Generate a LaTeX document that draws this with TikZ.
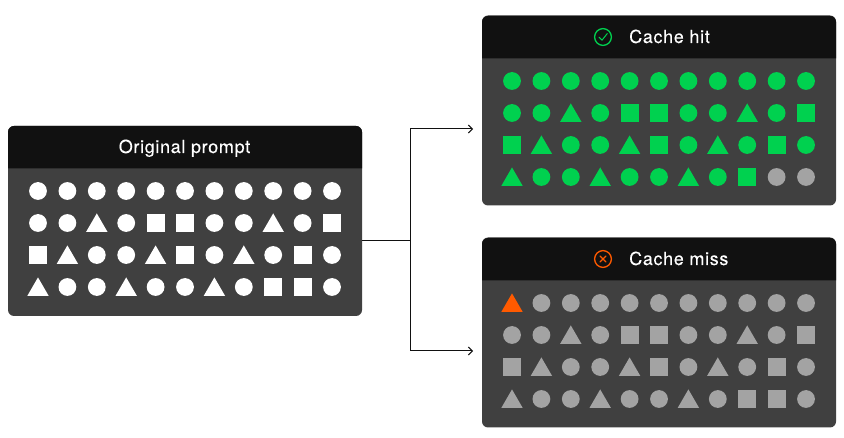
\documentclass[tikz,border=0pt]{standalone}
\usepackage{fontspec}
\setmainfont[LetterSpace=3.6,FakeBold=0.12]{TeX Gyre Heros}
\usetikzlibrary{arrows.meta}

\definecolor{panelgrey}{HTML}{404040}
\definecolor{headblack}{HTML}{111111}
\definecolor{hitgreen}{HTML}{00D14F}
\definecolor{tokengrey}{HTML}{A3A3A3}
\definecolor{missorange}{HTML}{FF5A00}

\tikzset{
  panelbody/.style={fill=panelgrey, rounded corners=6pt, minimum width=354pt, minimum height=190pt, inner sep=0pt, outer sep=0pt},
  headtext/.style={text=white, font=\fontsize{18}{20}\selectfont, inner sep=0pt},
  link/.style={draw=headblack, line width=1pt},
  badge/.style={line width=1.3pt, line cap=round, line join=round}
}

% one token, centred on (#2,#3)
\newcommand{\tokenc}[3]{\fill[#1] (#2,#3) circle (8.9);}
\newcommand{\tokens}[3]{\fill[#1] (#2-8.9,#3-8.9) rectangle (#2+8.9,#3+8.9);}
\newcommand{\tokent}[3]{\fill[#1] (#2-10.7,#3+8.9) -- (#2+10.7,#3+8.9) -- (#2,#3-9.6) -- cycle;}
% the two odd ones keep their own colour
\newcommand{\tokeng}[3]{\tokenc{tokengrey}{#2}{#3}}
\newcommand{\tokeno}[3]{\tokent{missorange}{#2}{#3}}

% black top of a panel with round upper corners
\newcommand{\panelhead}[2]{
  \fill[headblack, rounded corners=6pt] (#1,#2+42.4) [sharp corners] -- (#1,#2+42.4) [rounded corners=6pt] -- (#1,#2) -- (#1+354,#2) [sharp corners] -- (#1+354,#2+42.4) -- cycle;
}

% the 4 x 11 tokens: left x, top y, colour, first row, last row
\newcommand{\tokengrid}[5]{
  \foreach \row/\rowlist in {0/{#4},
                             1/{c,c,t,c,s,s,c,c,t,c,s},
                             2/{s,t,c,c,t,s,c,t,c,s,c},
                             3/{#5}} {
    \foreach \kind [count=\col from 0] in \rowlist {
      \pgfmathsetmacro{\tx}{#1+\col*29.4}
      \pgfmathsetmacro{\ty}{#2+\row*32}
      \csname token\kind\endcsname{#3}{\tx}{\ty}
    }
  }
}

\begin{document}
\begin{tikzpicture}[x=1pt, y=-1pt]
\useasboundingbox (0,0) rectangle (844,438);

% left panel
\node[panelbody] (orig) at (185,221) {};
\panelhead{8}{126}
\node[headtext, anchor=base] (origtitle) at (184.5,153) {Original prompt};
\tokengrid{38}{191}{white}{c,c,c,c,c,c,c,c,c,c,c}{t,c,c,t,c,c,t,c,s,s,c}

% cache hit
\node[panelbody] (hit) at (659,110.5) {};
\panelhead{482}{16}
\node[headtext, anchor=base west] (hittitle) at (629,43) {Cache hit};
\draw[hitgreen, badge] (603,37) circle (8.4);
\draw[hitgreen, badge, line width=1pt] (599,37.2) -- (602,40.2) -- (607.2,33.6);
\tokengrid{512}{81}{hitgreen}{c,c,c,c,c,c,c,c,c,c,c}{t,c,c,t,c,c,t,c,s,g,g}

% cache miss
\node[panelbody] (miss) at (659,332.5) {};
\panelhead{482}{238}
\node[headtext, anchor=base west] (misstitle) at (629,265) {Cache miss};
\draw[missorange, badge] (603,259) circle (8.4);
\draw[missorange, badge] (600,256) -- (606,262) (606,256) -- (600,262);
\tokengrid{512}{303}{tokengrey}{o,c,c,c,c,c,c,c,c,c,c}{t,c,c,t,c,c,t,c,s,s,c}

% connectors
\coordinate (fork) at (410.5,240.5);
\coordinate (hitend) at (473,129);
\coordinate (missend) at (473,351);
\draw[link] (orig.east |- fork) -- (fork);
\draw[link, -{Straight Barb[length=4pt,width=8pt]}] (fork) |- (hitend);
\draw[link, -{Straight Barb[length=4pt,width=8pt]}] (fork) |- (missend);

\end{tikzpicture}
\end{document}
